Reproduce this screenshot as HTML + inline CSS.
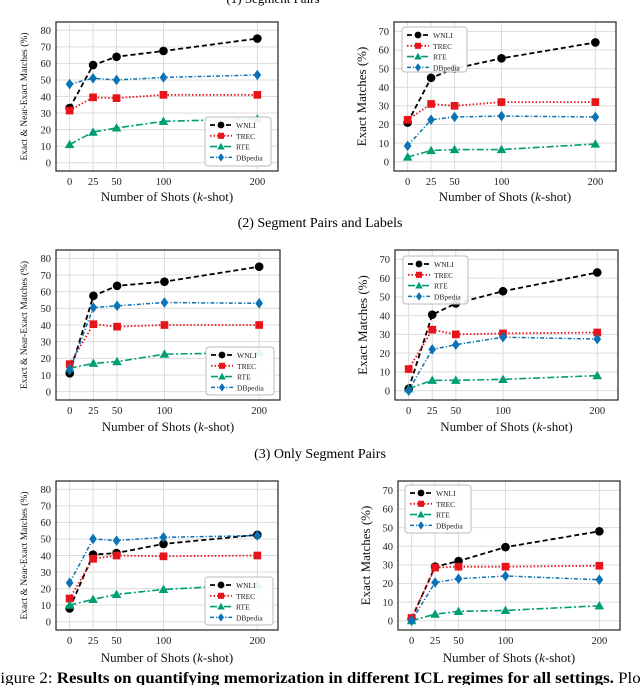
<!DOCTYPE html>
<html><head><meta charset="utf-8"><style>
html,body{margin:0;padding:0;background:#fff;}
svg{display:block;font-family:"Liberation Serif",serif;}
</style></head><body>
<svg id="fig" width="640" height="685" viewBox="0 0 640 685">
<text x="273" y="3" font-size="13" text-anchor="middle">(1) Segment Pairs</text>
<text x="320" y="227" font-size="14" text-anchor="middle">(2) Segment Pairs and Labels</text>
<text x="320" y="458" font-size="14" text-anchor="middle">(3) Only Segment Pairs</text>
<text x="-9" y="683" font-size="16" textLength="661" lengthAdjust="spacingAndGlyphs">Figure 2: <tspan font-weight="bold">Results on quantifying memorization in different ICL regimes for all settings.</tspan> Plots</text>
</svg>
<script>
const shots = [0, 25, 50, 100, 200];
const seriesNames = ["WNLI", "TREC", "RTE", "DBpedia"];
const leftTicks = [0, 10, 20, 30, 40, 50, 60, 70, 80];
const rightTicks = [0, 10, 20, 30, 40, 50, 60, 70];
// panel 1
const p1WNLI = [33, 59, 64, 67.5, 75];
const p1TREC = [31.5, 39.5, 39, 41, 41];
const p1RTE = [11, 18.5, 21, 25, 26.5];
const p1DBpedia = [47.5, 51, 50, 51.5, 53];
// panel 2
const p2WNLI = [21, 45, 50, 55.5, 64];
const p2TREC = [22.5, 31, 30, 32, 32];
const p2RTE = [2.5, 6, 6.5, 6.5, 9.5];
const p2DBpedia = [8.5, 22.5, 24, 24.5, 24];
// panel 3
const p3WNLI = [11, 57.5, 63.5, 66, 75];
const p3TREC = [16.5, 40.5, 39, 40, 40];
const p3RTE = [14, 17, 18, 22.5, 23.5];
const p3DBpedia = [13, 50.5, 51.5, 53.5, 53];
// panel 4
const p4WNLI = [1, 40.5, 46.5, 53, 63];
const p4TREC = [11.5, 32.5, 30, 30.5, 31];
const p4RTE = [1, 5.5, 5.5, 6, 8];
const p4DBpedia = [0, 22, 24.5, 28.5, 27.5];
// panel 5
const p5WNLI = [8, 40.5, 41.5, 47, 52.5];
const p5TREC = [14, 38, 40, 39.5, 40];
const p5RTE = [10, 13.5, 16.5, 19.5, 22.5];
const p5DBpedia = [23.5, 50, 49, 51, 52];
// panel 6
const p6WNLI = [1, 29, 32, 39.5, 48];
const p6TREC = [1.5, 28.5, 29, 29, 29.5];
const p6RTE = [0, 3.5, 5, 5.5, 8];
const p6DBpedia = [0, 20.5, 22.5, 24, 22];

const NS = "http://www.w3.org/2000/svg";
const svg = document.getElementById('fig');
const styles = [
  {c:"#000", dash:"5,3", w:1.8, m:"circle"},
  {c:"#e8141c", dash:"1.5,2", w:1.8, m:"square"},
  {c:"#009e73", dash:"7,2.5,2,2.5", w:1.6, m:"tri"},
  {c:"#0a72b5", dash:"4,2,1.2,2", w:1.5, m:"diamond"}
];
function mk(tag, attrs, parent){const e=document.createElementNS(NS,tag);for(const k in attrs)e.setAttribute(k,attrs[k]);(parent||svg).appendChild(e);return e;}
function marker(g, type, x, y, c, s){
  let e;
  if(type==="circle") e=mk('circle',{cx:x,cy:y,r:s*0.9,fill:c},g);
  else if(type==="square") e=mk('rect',{x:x-s*0.8,y:y-s*0.8,width:s*1.6,height:s*1.6,fill:c},g);
  else if(type==="tri") e=mk('polygon',{points:`${x},${y-s} ${x-s},${y+s*0.75} ${x+s},${y+s*0.75}`,fill:c},g);
  else e=mk('polygon',{points:`${x},${y-s*1.1} ${x+s*0.8},${y} ${x},${y+s*1.1} ${x-s*0.8},${y}`,fill:c},g);
  return e;
}
function panel(id, box, ymax, ticks, series, legend, ylabel, ylabelSize, ylabelX, xlabelY){
  const g = mk('g',{});
  
  
  const [L,T,R,B] = box;
  const xs = v => L + (v + 14.5) / 236.5 * (R - L);
  const ys = v => B - (v + 5) / (ymax + 10) * (B - T);
  const grid = mk('g',{},g);
  
  
  shots.forEach(s=>mk('line',{x1:xs(s),x2:xs(s),y1:T,y2:B,stroke:"#dcdcdc","stroke-width":1},grid));
  ticks.forEach(t=>mk('line',{x1:L,x2:R,y1:ys(t),y2:ys(t),stroke:"#dcdcdc","stroke-width":1},grid));
  ticks.forEach(t=>{const e=mk('text',{x:L-5,y:ys(t)+3.8,"font-size":10.5,"text-anchor":"end",fill:"#222"},g);e.textContent=t;
    });
  shots.forEach(s=>{const e=mk('text',{x:xs(s),y:B+14,"font-size":10.5,"text-anchor":"middle",fill:"#222"},g);e.textContent=s;
    });
  series.forEach((vals,i)=>{
    const st=styles[i];
    const sg=mk('g',{},g);
    
    
    const pts=vals.map((v,j)=>xs(shots[j])+","+ys(v)).join(" ");
    mk('polyline',{points:pts,fill:"none",stroke:st.c,"stroke-width":st.w,"stroke-dasharray":st.dash},sg);
    vals.forEach((v,j)=>{const m=marker(sg,st.m,xs(shots[j]),ys(v),st.c,4.8);
      });
  });
  mk('rect',{x:L,y:T,width:R-L,height:B-T,fill:"none",stroke:"#222","stroke-width":1.2},g);
  const [lx,ly,lw,lh]=legend;
  const lg=mk('g',{},g);
  
  
  mk('rect',{x:lx,y:ly,width:lw,height:lh,rx:3,fill:"#fff","fill-opacity":0.9,stroke:"#bbb","stroke-width":1},lg);
  seriesNames.forEach((n,i)=>{
    const st=styles[i]; const yy=ly+8+i*10.8;
    const eg=mk('g',{},lg);
    
    
    mk('line',{x1:lx+5,x2:lx+27,y1:yy,y2:yy,stroke:st.c,"stroke-width":st.w,"stroke-dasharray":st.dash},eg);
    marker(eg,st.m,lx+16,yy,st.c,3.8);
    const t=mk('text',{x:lx+31,y:yy+3,"font-size":7.5,fill:"#222"},eg);t.textContent=n;
  });
  const xl=mk('text',{x:(L+R)/2,y:xlabelY,"font-size":13,"text-anchor":"middle",fill:"#111"},g);
  xl.innerHTML='Number of Shots (<tspan font-style="italic">k</tspan>-shot)';
  
  const cy=(T+B)/2;
  const yl=mk('text',{x:ylabelX,y:cy,"font-size":ylabelSize,"text-anchor":"middle",fill:"#111",transform:`rotate(-90 ${ylabelX} ${cy})`},g);
  yl.textContent=ylabel;
  
}
const LY="Exact & Near-Exact Matches (%)", RY="Exact Matches (%)";
panel('panel-1-left',[56,22,278,171],80,leftTicks,[p1WNLI,p1TREC,p1RTE,p1DBpedia],[205,117,66,49],LY,9.5,27,201);
panel('panel-1-right',[394,22,616,171],70,rightTicks,[p2WNLI,p2TREC,p2RTE,p2DBpedia],[402,27,65,45],RY,13,366,201);
panel('panel-2-left',[56,250,280,400],80,leftTicks,[p3WNLI,p3TREC,p3RTE,p3DBpedia],[206,347,68,48],LY,9.5,27,431);
panel('panel-2-right',[395,250,618,400],70,rightTicks,[p4WNLI,p4TREC,p4RTE,p4DBpedia],[403,256,65,48],RY,13,367,431);
panel('panel-3-left',[56,481,278,630],80,leftTicks,[p5WNLI,p5TREC,p5RTE,p5DBpedia],[205,577,68,48],LY,9.5,27,662);
panel('panel-3-right',[398,481,620,630],70,rightTicks,[p6WNLI,p6TREC,p6RTE,p6DBpedia],[405,485,66,48],RY,13,370,662);
</script>
</body></html>
